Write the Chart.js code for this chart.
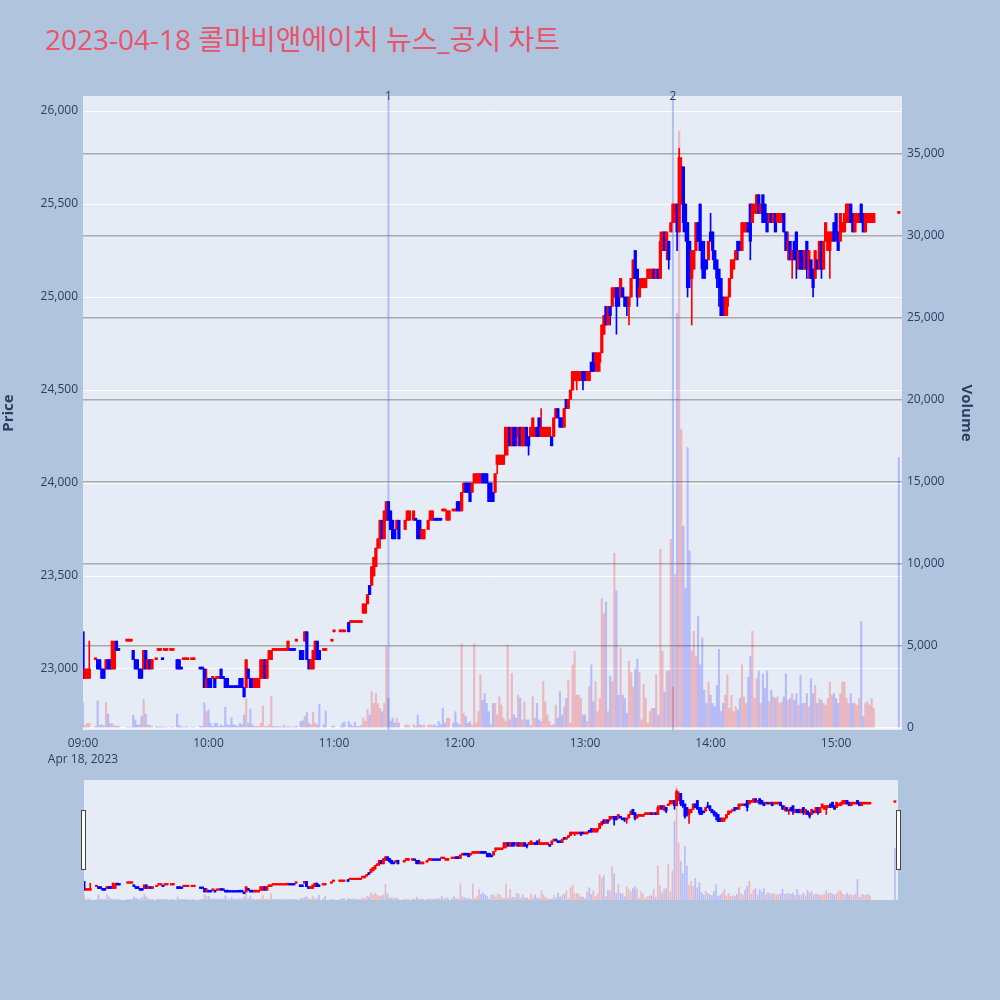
<!DOCTYPE html>
<html lang="ko">
<head>
<meta charset="UTF-8">
<title>2023-04-18 콜마비앤에이치 뉴스_공시 차트</title>
<script src="https://cdn.jsdelivr.net/npm/chart.js@4.4.0/dist/chart.umd.min.js"></script>
<style>
  body { margin: 0; background: #b0c4de; width: 1000px; height: 1000px; overflow: hidden; position: relative;
         font-family: "Open Sans", "Noto Sans CJK KR", sans-serif; }
  #title { position: absolute; left: 45px; top: 25px; font-size: 28px; line-height: 1; color: #e9536b; white-space: nowrap; }
  #main { position: absolute; left: 0; top: 0; }
  #slider { position: absolute; left: 0; top: 770px; }
</style>
</head>
<body>
<div id="title">2023-04-18 콜마비앤에이치 뉴스_공시 차트</div>
<canvas id="main" width="1000" height="775"></canvas>
<canvas id="slider" width="1000" height="140"></canvas>
<script>
// minutes after 09:00, one candle per traded minute
var minute = [
  0,1,2,3,6,7,8,9,10,11, 12,13,14,15,16,17,21,22,23,24, 25,26,27,28,29,30,31,32,33,35,
  36,37,38,39,40,42,43,45,46,47, 48,49,50,52,53,56,57,58,59,60, 61,62,63,64,65,66,67,68,69,70,
  71,72,73,74,75,76,77,78,79,80, 81,82,83,84,85,86,87,88,89,90, 91,92,93,94,95,96,97,98,99,100,
  101,102,104,105,106,107,108,109,110,111, 112,113,115,116,119,120,123,124,125,127, 128,129,130,131,132,133,134,135,136,137,
  138,139,140,141,142,143,144,145,146,147, 148,149,150,151,154,155,156,158,159,160, 161,162,163,165,166,167,168,169,170,171,
  172,173,174,175,177,178,179,180,181,182, 183,184,185,186,187,188,189,190,191,192, 193,194,195,196,197,198,199,200,201,202,
  203,204,205,206,207,208,209,210,211,212, 213,214,215,216,217,218,219,220,221,222, 223,224,225,226,227,228,229,230,231,232,
  233,234,235,236,237,238,239,240,241,242, 243,244,245,246,247,248,249,250,251,252, 253,254,255,256,257,258,259,260,261,262,
  263,264,265,266,267,268,269,270,271,272, 273,274,275,276,277,278,279,280,281,282, 283,284,285,286,287,288,289,290,291,292,
  293,294,295,296,297,298,299,300,301,302, 303,304,305,306,307,308,309,310,311,312, 313,314,315,316,317,318,319,320,321,322,
  323,324,325,326,327,328,329,330,331,332, 333,334,335,336,337,338,339,340,341,342, 343,344,345,346,347,348,349,350,351,352,
  353,354,355,356,357,358,359,360,361,362, 363,364,365,366,367,368,369,370,371,372, 373,374,375,376,377,378,390
];
var openP = [
  23200,22950,22950,22950,23050,23050,23050,23000,23000,23000, 23050,23050,23000,23000,23150,23100,23150,23150,23150,23100, 23050,23050,23000,23000,23000,23100,23000,23050,23000,23050,
  23100,23100,23050,23100,23100,23100,23100,23050,23050,23000, 23050,23050,23050,23050,23050,23000,23000,23000,22900,22950, 22950,22950,22950,22950,22950,23000,22950,22950,22950,22900,
  22900,22900,22900,22900,22950,22950,22900,22900,23000,22950, 22950,22900,22900,22900,22950,22950,23050,22950,23050,23050, 23100,23100,23100,23100,23100,23100,23100,23100,23100,23100,
  23100,23150,23100,23100,23150,23200,23050,23000,23000,23050, 23150,23100,23100,23100,23150,23200,23200,23200,23200,23250, 23250,23250,23250,23250,23250,23250,23300,23300,23350,23450,
  23450,23500,23550,23650,23700,23800,23700,23800,23900,23850, 23800,23750,23750,23800,23750,23800,23800,23800,23800,23800, 23800,23700,23700,23750,23800,23800,23800,23800,23800,23800,
  23850,23850,23800,23800,23850,23850,23900,23900,23850,23950, 24000,24000,24000,23950,24000,24000,24000,24000,24050,24050, 24050,24000,24000,23950,23950,24100,24100,24100,24100,24150,
  24250,24300,24200,24300,24300,24250,24300,24200,24200,24300, 24250,24250,24250,24250,24300,24350,24250,24250,24250,24250, 24250,24250,24250,24350,24400,24350,24350,24300,24450,24400,
  24450,24500,24550,24550,24550,24550,24600,24600,24550,24550, 24650,24700,24650,24600,24650,24700,24800,24950,24850,24950, 24950,25000,25050,25050,25000,25050,25000,25000,24950,25000,
  25100,25250,25150,25000,25050,25050,25050,25100,25100,25100, 25150,25100,25150,25100,25250,25350,25250,25300,25350,25400, 25450,25500,25350,25500,25700,25500,25400,25300,25100,25150,
  25250,25400,25500,25300,25200,25200,25200,25350,25350,25250, 25200,25150,25100,25000,24900,24950,25000,25100,25150,25200, 25300,25300,25250,25350,25350,25400,25500,25400,25450,25450,
  25550,25450,25550,25500,25450,25400,25450,25400,25450,25400, 25400,25400,25450,25350,25250,25300,25200,25300,25350,25150, 25250,25250,25150,25300,25150,25200,25150,25100,25200,25150,
  25300,25150,25300,25250,25250,25300,25400,25450,25350,25300, 25350,25350,25400,25400,25500,25450,25350,25400,25400,25500, 25450,25350,25400,25400,25400,25400,25450
];
var highP = [
  23200,23000,23000,23150,23050,23050,23050,23000,23000,23050, 23050,23050,23150,23150,23150,23100,23150,23150,23150,23100, 23050,23050,23000,23000,23100,23100,23050,23050,23050,23050,
  23100,23100,23050,23100,23100,23100,23100,23050,23050,23000, 23050,23050,23050,23050,23050,23000,23000,23000,23000,22950, 22950,22950,22950,22950,22950,23000,22950,22950,22950,22900,
  22900,22900,22900,22900,22950,22950,22900,23050,23000,22950, 22950,22950,22950,22950,23050,23050,23050,23050,23100,23100, 23100,23100,23100,23100,23100,23100,23100,23150,23100,23100,
  23100,23150,23100,23100,23200,23200,23050,23050,23100,23150, 23150,23100,23100,23100,23150,23200,23200,23200,23200,23250, 23250,23250,23250,23250,23250,23250,23350,23350,23400,23450,
  23550,23600,23650,23700,23800,23800,23850,23900,23900,23850, 23800,23750,23800,23800,23800,23850,23850,23850,23800,23800, 23800,23750,23750,23800,23850,23850,23800,23800,23800,23800,
  23850,23850,23850,23850,23850,23850,23900,23900,23950,24000, 24000,24000,24000,24000,24050,24050,24050,24050,24050,24050, 24050,24000,24000,23950,24050,24150,24150,24150,24150,24300,
  24300,24300,24300,24300,24300,24300,24300,24300,24300,24300, 24250,24300,24350,24300,24300,24350,24400,24300,24300,24300, 24300,24250,24350,24400,24400,24350,24350,24400,24450,24450,
  24500,24600,24600,24600,24600,24600,24600,24600,24600,24600, 24650,24700,24700,24700,24700,24850,24900,24950,24950,24950, 25050,25050,25050,25050,25100,25050,25000,25000,25000,25100,
  25200,25250,25150,25100,25100,25100,25100,25150,25150,25150, 25150,25150,25150,25350,25350,25350,25350,25300,25400,25500, 25500,25500,25800,25750,25700,25500,25400,25300,25250,25250,
  25400,25400,25500,25300,25300,25200,25300,25450,25350,25250, 25200,25150,25100,25000,25000,25000,25100,25200,25200,25250, 25300,25300,25400,25400,25400,25400,25500,25500,25500,25550,
  25550,25500,25550,25500,25450,25450,25450,25450,25450,25450, 25450,25450,25450,25350,25350,25300,25250,25300,25350,25250, 25250,25250,25250,25300,25250,25200,25150,25250,25200,25300,
  25300,25300,25400,25350,25350,25350,25400,25450,25350,25450, 25400,25450,25500,25500,25500,25450,25450,25450,25450,25500, 25450,25450,25450,25450,25450,25450,25450
];
var lowP = [
  22950,22950,22950,22950,23050,23000,23000,22950,22950,23000, 23000,23000,23000,23000,23100,23100,23150,23150,23150,23050, 23000,23000,22950,22950,23000,23000,23000,23000,23000,23050,
  23100,23100,23050,23100,23100,23100,23100,23000,23000,23000, 23050,23050,23050,23050,23050,23000,23000,22900,22900,22900, 22900,22950,22900,22950,22950,22950,22950,22900,22900,22900,
  22900,22900,22900,22900,22900,22900,22850,22900,22950,22900, 22900,22900,22900,22900,22950,22950,22950,22950,23050,23050, 23100,23100,23100,23100,23100,23100,23100,23100,23100,23100,
  23100,23150,23050,23050,23150,23050,23000,23000,23000,23050, 23050,23050,23100,23100,23150,23200,23200,23200,23200,23200, 23250,23250,23250,23250,23250,23250,23300,23300,23350,23400,
  23450,23500,23550,23650,23650,23700,23700,23800,23800,23750, 23700,23700,23750,23700,23750,23800,23800,23800,23800,23700, 23700,23700,23700,23750,23800,23800,23800,23800,23800,23800,
  23850,23850,23800,23800,23850,23850,23850,23850,23850,23950, 23950,23950,23900,23950,24000,24000,24000,24000,24000,24000, 24000,23900,23900,23900,23950,24050,24100,24100,24100,24150,
  24150,24200,24200,24200,24200,24200,24200,24200,24200,24200, 24150,24250,24250,24250,24250,24250,24250,24250,24250,24250, 24250,24200,24250,24350,24350,24300,24300,24300,24400,24400,
  24450,24500,24550,24500,24550,24550,24500,24550,24550,24550, 24600,24600,24600,24600,24600,24700,24800,24850,24850,24850, 24950,25000,24800,24950,25000,25000,24950,24900,24850,25000,
  25100,25100,24950,25000,25050,25050,25050,25100,25100,25100, 25100,25100,25100,25100,25250,25250,25200,25150,25350,25400, 25400,25250,25350,25500,25350,25300,25000,25050,24850,25150,
  25250,25300,25250,25100,25100,25150,25200,25300,25200,25150, 25050,24950,24900,24900,24900,24900,25000,25100,25150,25200, 25200,25250,25250,25350,25350,25350,25200,25400,25450,25450,
  25450,25450,25400,25400,25350,25400,25400,25400,25350,25400, 25400,25400,25350,25250,25200,25200,25100,25200,25100,25150, 25150,25150,25150,25100,25100,25100,25000,25100,25150,25150,
  25100,25150,25300,25250,25100,25300,25300,25300,25250,25300, 25350,25350,25400,25400,25400,25350,25350,25400,25400,25400, 25350,25350,25400,25400,25400,25400,25450
];
var closeP = [
  22950,23000,23000,23000,23050,23000,23000,22950,22950,23050, 23000,23000,23150,23100,23100,23100,23150,23150,23150,23050, 23000,23000,22950,22950,23100,23000,23050,23000,23050,23050,
  23100,23100,23050,23100,23100,23100,23100,23000,23000,23000, 23050,23050,23050,23050,23050,23000,23000,22900,22950,22900, 22900,22950,22900,22950,22950,22950,22950,22900,22900,22900,
  22900,22900,22900,22900,22900,22900,22850,23050,22950,22900, 22900,22950,22950,22950,23050,23050,22950,23050,23100,23100, 23100,23100,23100,23100,23100,23100,23100,23150,23100,23100,
  23100,23150,23050,23050,23200,23050,23000,23050,23100,23150, 23050,23050,23100,23100,23150,23200,23200,23200,23200,23200, 23250,23250,23250,23250,23250,23250,23350,23350,23400,23400,
  23550,23600,23650,23700,23800,23700,23850,23900,23800,23750, 23700,23700,23800,23700,23800,23850,23850,23850,23800,23700, 23700,23750,23750,23800,23850,23850,23800,23800,23800,23800,
  23850,23850,23850,23850,23850,23850,23850,23850,23950,24000, 23950,23950,23900,24000,24050,24050,24050,24050,24000,24000, 24000,23900,23900,23900,24050,24150,24150,24150,24150,24300,
  24300,24200,24300,24200,24250,24300,24200,24300,24300,24200, 24200,24300,24350,24300,24250,24250,24300,24300,24300,24300, 24300,24200,24350,24400,24350,24300,24300,24400,24400,24450,
  24500,24600,24600,24600,24600,24600,24550,24550,24600,24600, 24600,24600,24700,24700,24700,24850,24900,24850,24950,24900, 25050,25050,24950,24950,25100,25000,24950,24950,25000,25100,
  25200,25100,25000,25050,25100,25100,25100,25150,25150,25150, 25100,25150,25100,25300,25350,25250,25350,25200,25400,25500, 25500,25350,25750,25700,25400,25350,25050,25100,25250,25250,
  25400,25300,25250,25150,25100,25150,25300,25300,25250,25150, 25100,25050,24900,24900,25000,25000,25100,25200,25200,25250, 25250,25250,25400,25400,25400,25350,25300,25500,25500,25550,
  25450,25500,25400,25400,25350,25450,25400,25450,25350,25450, 25450,25450,25350,25250,25300,25200,25250,25200,25200,25250, 25150,25150,25250,25150,25250,25100,25050,25250,25150,25300,
  25150,25300,25400,25350,25350,25350,25300,25350,25250,25450, 25400,25450,25500,25500,25400,25350,25450,25450,25450,25400, 25350,25450,25450,25450,25450,25450,25450
];
var volume = [
  1550,180,280,300,100,1660,150,200,120,1545, 850,250,280,150,100,120,60,50,50,790, 490,180,200,730,1750,850,200,150,100,80,
  60,50,80,50,50,60,50,850,150,80, 60,50,80,50,50,120,100,1545,1000,1100, 280,100,280,285,100,200,100,1260,200,150,
  640,200,150,100,300,200,780,1770,300,1160, 200,100,100,100,300,1340,100,100,200,1950, 100,80,80,60,60,150,60,100,60,50,
  60,100,400,450,700,940,300,200,960,300, 200,1450,200,1040,100,100,80,300,380,400, 200,100,350,100,100,150,610,400,1140,790,
  2220,1500,2100,1500,1200,990,1500,4960,1830,400, 600,300,600,300,150,200,150,200,100,790, 200,150,200,150,200,150,200,100,400,200,
  1200,300,600,600,300,990,300,200,5120,900, 700,300,400,200,5120,300,1000,3250,1700,2100, 1500,1000,200,1500,1500,800,1900,1400,600,400,
  5060,500,3330,800,600,2010,1810,500,1600,500, 500,150,1900,600,1500,500,400,2830,1600,800, 400,150,200,1400,600,2220,800,1300,1800,2930,
  300,3850,4670,2010,2010,1800,800,800,400,2540, 3850,1600,2830,1000,1800,7880,6970,7680,1000,3150, 2830,10660,8360,2000,4870,2010,1800,900,4080,3370,
  2500,3600,4200,3370,500,2640,1800,300,1000,1200, 1200,3250,800,10900,4680,2200,3490,3490,11500,2500, 9350,25300,36400,18200,12300,8500,17100,10800,4700,5900,
  4350,6800,3850,5500,2300,1500,2800,2000,1500,1300, 2600,4800,1000,1500,2000,3250,1200,2000,1000,1300, 1100,1800,3850,1900,1500,3100,4350,5900,1800,3000,
  3480,1500,3300,2400,3480,1600,2300,1900,1800,1900, 1500,1600,1900,3300,1700,1800,2100,1700,2100,1400, 3200,1500,1500,2100,1300,3000,2100,2600,1500,1800,
  1700,1500,1400,1800,2800,2000,2100,1800,1500,2100, 2800,2800,1800,1500,2100,1500,1500,1400,1800,6500, 700,1500,1600,1400,1800,1200,16500
];

var xTickValues = [0, 60, 120, 180, 240, 300, 360];
var xTickLabels = ['09:00', '10:00', '11:00', '12:00', '13:00', '14:00', '15:00'];
var dateLabel = 'Apr 18, 2023';
var priceTicks = [23000, 23500, 24000, 24500, 25000, 25500, 26000];
var volumeTicks = [0, 5000, 10000, 15000, 20000, 25000, 30000, 35000];
var eventMinutes = [146, 282];
var eventLabels = ['1', '2'];

var X_MAX = 391.5, P_MIN = 22672, P_MAX = 26081, V_MIN = -122, V_MAX = 38537;
var UP = '#ff0000', DOWN = '#0000ff';
var UP_VOL = 'rgba(255,0,0,0.22)', DOWN_VOL = 'rgba(0,0,255,0.2)';
var TEXT = '#2a3f5f';

Chart.defaults.font.family = '"Open Sans", "Noto Sans CJK KR", sans-serif';

// candle colour like plotly: flat candles take direction from previous close
var isUp = [];
var up = true, prevClose = null;
for (var i = 0; i < closeP.length; i++) {
  if (closeP[i] > openP[i]) up = true;
  else if (closeP[i] < openP[i]) up = false;
  else if (prevClose !== null && closeP[i] !== prevClose) up = closeP[i] > prevClose;
  isUp.push(up);
  prevClose = closeP[i];
}
var candleColors = isUp.map(function (u) { return u ? UP : DOWN; });
var volColors = closeP.map(function (c, i) { return c > openP[i] ? UP_VOL : DOWN_VOL; });

function makeDatasets(bodyW, wickW, volW, minLen) {
  return [
    {
      label: 'Volume', yAxisID: 'yv', order: 3, grouped: false,
      data: minute.map(function (m, i) { return { x: m, y: volume[i] }; }),
      backgroundColor: volColors, barThickness: volW
    },
    {
      label: 'wick', yAxisID: 'y', order: 2, grouped: false,
      data: minute.map(function (m, i) { return { x: m, y: [lowP[i], highP[i]] }; }),
      backgroundColor: candleColors, barThickness: wickW
    },
    {
      label: 'body', yAxisID: 'y', order: 1, grouped: false,
      data: minute.map(function (m, i) { return { x: m, y: [openP[i], closeP[i]] }; }),
      backgroundColor: candleColors, barThickness: bodyW, minBarLength: minLen
    }
  ];
}

var plotBg = {
  id: 'plotBg',
  beforeDraw: function (chart) {
    var a = chart.chartArea, ctx = chart.ctx;
    ctx.save();
    ctx.fillStyle = '#e5ecf6';
    ctx.fillRect(a.left, a.top, a.right - a.left, a.bottom - a.top);
    ctx.restore();
  }
};

var eventLines = {
  id: 'eventLines',
  beforeDatasetsDraw: function (chart) {
    var a = chart.chartArea, ctx = chart.ctx, xs = chart.scales.x;
    ctx.save();
    eventMinutes.forEach(function (m, k) {
      var px = xs.getPixelForValue(m);
      ctx.strokeStyle = 'rgba(110,135,230,0.45)';
      ctx.lineWidth = 2;
      ctx.beginPath();
      ctx.moveTo(px, a.top);
      ctx.lineTo(px, a.bottom);
      ctx.stroke();
      ctx.fillStyle = TEXT;
      ctx.font = '12px "Open Sans", sans-serif';
      ctx.textAlign = 'center';
      ctx.textBaseline = 'middle';
      ctx.fillText(eventLabels[k], px, a.top + 1);
    });
    ctx.restore();
  }
};

var fmt = function (v) { return Number(v).toLocaleString('en-US'); };

new Chart(document.getElementById('main'), {
  type: 'bar',
  data: { datasets: makeDatasets(2.6, 1, 1.5, 2) },
  options: {
    responsive: false,
    animation: false,
    layout: { padding: { left: 0, right: 25, top: 96, bottom: 5 } },
    plugins: { legend: { display: false }, tooltip: { enabled: false } },
    scales: {
      x: {
        type: 'linear', min: 0, max: X_MAX, offset: false,
        grid: { display: false, drawTicks: false }, border: { display: false },
        afterBuildTicks: function (s) { s.ticks = xTickValues.map(function (v) { return { value: v }; }); },
        afterFit: function (s) { s.height = 40; },
        ticks: {
          color: TEXT, font: { size: 12, lineHeight: 1.35 }, padding: 5, maxRotation: 0, autoSkip: false,
          callback: function (v, i) { return i === 0 ? [xTickLabels[i], dateLabel] : xTickLabels[i]; }
        }
      },
      y: {
        position: 'left', min: P_MIN, max: P_MAX,
        afterBuildTicks: function (s) { s.ticks = priceTicks.map(function (v) { return { value: v }; }); },
        afterFit: function (s) { s.width = 83; },
        grid: { color: '#ffffff', lineWidth: 1, drawTicks: false }, border: { display: false },
        ticks: { color: TEXT, font: { size: 12 }, padding: 5, callback: fmt },
        title: { display: true, text: 'Price', color: TEXT, font: { size: 15, weight: 'bold' }, padding: { top: 0, bottom: 0 } }
      },
      yv: {
        position: 'right', min: V_MIN, max: V_MAX,
        afterBuildTicks: function (s) { s.ticks = volumeTicks.map(function (v) { return { value: v }; }); },
        afterFit: function (s) { s.width = 73; },
        grid: {
          color: function (c) { return c.tick && c.tick.value === 0 ? '#ffffff' : '#aaaaaa'; },
          lineWidth: 1.5, drawTicks: false
        },
        border: { display: false },
        ticks: { color: TEXT, font: { size: 12 }, padding: 5, callback: fmt },
        title: { display: true, text: 'Volume', color: TEXT, font: { size: 15, weight: 'bold' }, padding: { top: 0, bottom: 0 } }
      }
    }
  },
  plugins: [plotBg, eventLines]
});

var sliderHandles = {
  id: 'sliderHandles',
  afterDraw: function (chart) {
    var a = chart.chartArea, ctx = chart.ctx;
    ctx.save();
    ctx.fillStyle = '#ffffff';
    ctx.strokeStyle = '#444444';
    ctx.lineWidth = 1;
    [a.left - 2.5, a.right - 1.5].forEach(function (hx) {
      ctx.fillRect(hx, a.top + 30, 4, 60);
      ctx.strokeRect(hx, a.top + 30.5, 4, 59);
    });
    ctx.restore();
  }
};

new Chart(document.getElementById('slider'), {
  type: 'bar',
  data: { datasets: makeDatasets(2.2, 1, 1, 1.5) },
  options: {
    responsive: false,
    animation: false,
    layout: { padding: { left: 84, right: 102, top: 10, bottom: 10 } },
    plugins: { legend: { display: false }, tooltip: { enabled: false } },
    scales: {
      x: { type: 'linear', min: 0, max: X_MAX, offset: false, display: false },
      y: { position: 'left', min: P_MIN, max: P_MAX, display: false },
      yv: { position: 'right', min: V_MIN, max: V_MAX, display: false }
    }
  },
  plugins: [plotBg, sliderHandles]
});
</script>
</body>
</html>
